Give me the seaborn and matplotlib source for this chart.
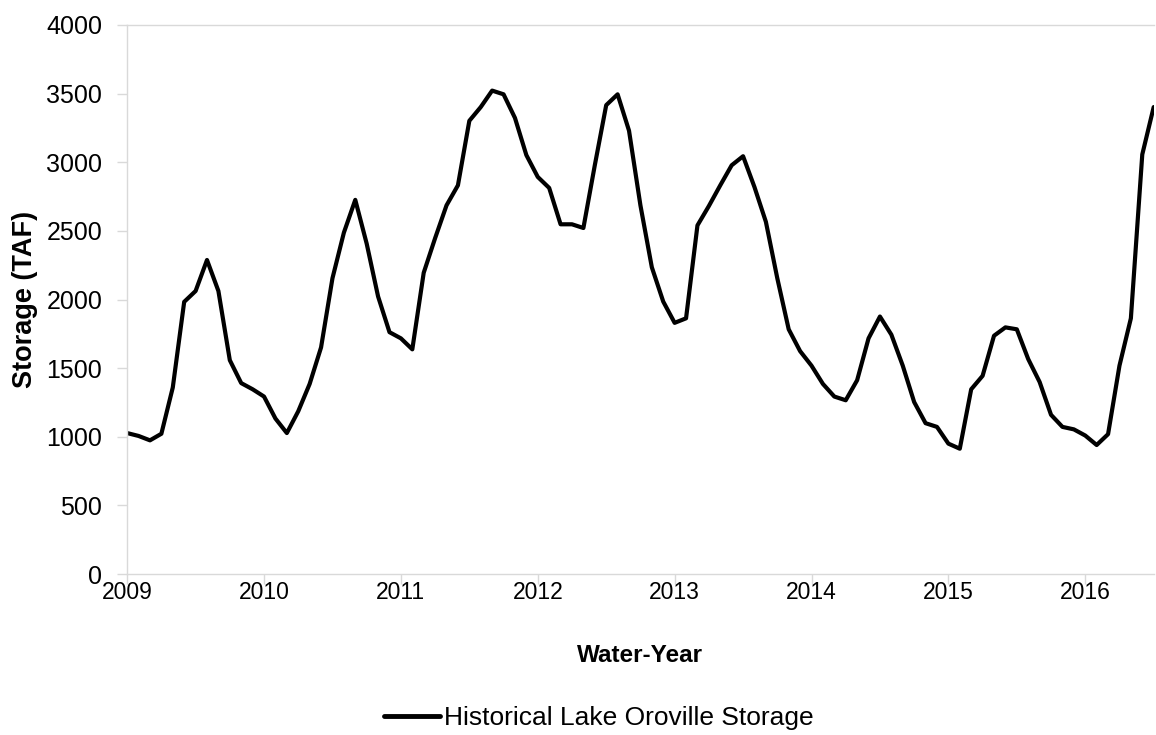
import numpy as np
import pandas as pd
import matplotlib
matplotlib.use("Agg")
import matplotlib.pyplot as plt
import seaborn as sns

# monthly storage (TAF), starting at the 2009 tick
start_year = 2009
storage_taf = [
    1027, 1006, 974, 1022, 1359, 1983, 2062, 2288, 2062, 1558, 1391, 1346,
    1293, 1133, 1027, 1186, 1385, 1651, 2155, 2487, 2726, 2407, 2022, 1762,
    1717, 1637, 2195, 2447, 2686, 2832, 3302, 3402, 3522, 3495, 3323, 3052,
    2893, 2813, 2548, 2548, 2521, 2978, 3416, 3495, 3230, 2686, 2235, 1985,
    1830, 1863, 2540, 2681, 2832, 2978, 3044, 2819, 2566, 2155, 1783, 1624,
    1518, 1385, 1293, 1266, 1412, 1717, 1876, 1744, 1518, 1253, 1099, 1072,
    950, 913, 1346, 1444, 1736, 1797, 1783, 1566, 1399, 1160, 1072, 1054,
    1009, 940, 1019, 1518, 1863, 3057, 3402,
]
year_ticks = [2009, 2010, 2011, 2012, 2013, 2014, 2015, 2016]
storage_ticks = [0, 500, 1000, 1500, 2000, 2500, 3000, 3500, 4000]
series_name = "Historical Lake Oroville Storage"

df = pd.DataFrame({
    "water_year": start_year + np.arange(len(storage_taf)) / 12.0,
    "storage": storage_taf,
    "series": series_name,
})

sns.set_theme(style="white")
plt.rcParams["font.family"] = ["Liberation Sans", "DejaVu Sans"]

fig = plt.figure(figsize=(11.56, 7.35), dpi=100)
ax = fig.add_axes([0.110, 0.219, 0.888, 0.747])

sns.lineplot(data=df, x="water_year", y="storage", hue="series",
             palette=["black"], linewidth=3, ax=ax, legend=False)

ax.set_xlim(start_year, start_year + (len(storage_taf) - 1) / 12.0)
ax.set_ylim(0, 4000)
ax.set_xticks(year_ticks)
ax.set_yticks(storage_ticks)
ax.tick_params(axis="both", colors="#d9d9d9", labelcolor="black", width=1,
               direction="out")
ax.tick_params(axis="y", left=True, length=7, pad=11, labelsize=18)
ax.tick_params(axis="x", bottom=True, length=7, pad=-2, labelsize=16.5)

for side in ["left", "bottom", "top"]:
    ax.spines[side].set_color("#d9d9d9")
    ax.spines[side].set_linewidth(1)
ax.spines["right"].set_visible(False)

ax.set_xlabel("Water-Year", fontsize=17.5, fontweight="bold", labelpad=29,
              color="black")
ax.set_ylabel("Storage (TAF)", fontsize=19.5, fontweight="bold", labelpad=6,
              color="black")

handle = plt.Line2D([], [], color="black", linewidth=3.5)
fig.legend([handle], [series_name], loc="center", bbox_to_anchor=(0.518, 0.023),
           frameon=False, fontsize=19, handlelength=2.15, handletextpad=0.15,
           labelcolor="black")

fig.savefig("out.png", dpi=100)
